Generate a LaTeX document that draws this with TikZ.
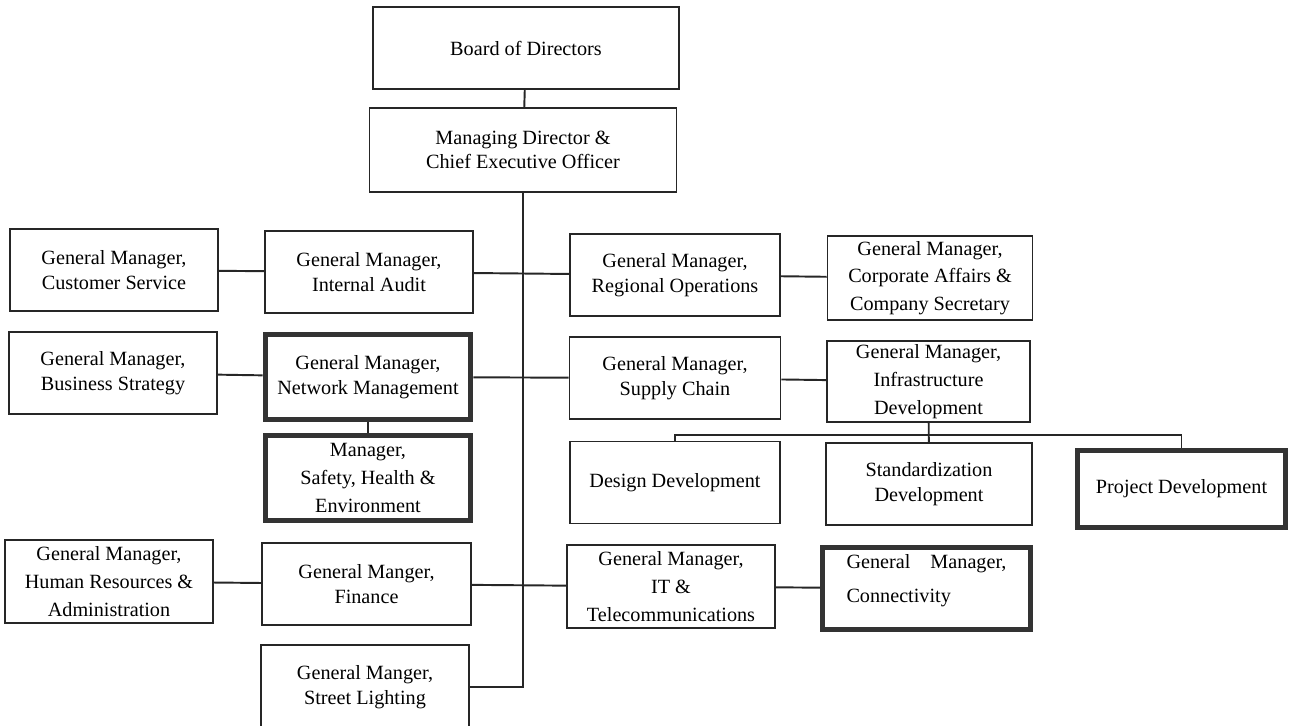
\documentclass[tikz,border=0pt]{standalone}
\usepackage{fontspec}
\setmainfont{Liberation Serif}
\usepackage{tikz}

\begin{document}
\begin{tikzpicture}[font=\fontsize{11.5}{14}\selectfont,
 box/.style={draw=black!85,line width=1.1pt,fill=white,align=center,inner sep=2pt,minimum width=4.16cm,minimum height=1.64cm},
 bold/.style={box,draw=black!80,line width=3pt},
 tall/.style={font=\fontsize{11.5}{15.8}\selectfont,inner ysep=0pt},
 link/.style={draw=black!85,line width=1.1pt}]
\useasboundingbox (0,0) rectangle (25.92,-14.52);
\node[box,minimum width=6.12cm] (board) at (10.52,-0.96) {Board of Directors};
\node[box,minimum width=6.14cm,minimum height=1.68cm] (md) at (10.46,-3.0) {Managing Director \&\\Chief Executive Officer};
% first row
\node[box] (cs) at (2.28,-5.40) {General Manager,\\Customer Service};
\node[box] (audit) at (7.38,-5.44) {General Manager,\\Internal Audit};
\node[box,minimum width=4.2cm] (regops) at (13.5,-5.5) {General Manager,\\Regional Operations};
\node[box,tall,minimum width=4.1cm,minimum height=1.68cm] (corp) at (18.6,-5.56) {General Manager,\\Corporate Affairs \&\\Company Secretary};
% second row
\node[box] (strategy) at (2.26,-7.46) {General Manager,\\Business Strategy};
\node[bold,minimum width=4.11cm,minimum height=1.69cm] (network) at (7.36,-7.54) {General Manager,\\Network Management};
\node[box,minimum width=4.22cm] (supply) at (13.5,-7.56) {General Manager,\\Supply Chain};
\node[box,tall,minimum width=4.06cm,minimum height=1.62cm] (infra) at (18.57,-7.63) {General Manager,\\Infrastructure\\Development};
\node[bold,tall,minimum width=4.09cm,minimum height=1.69cm] (safety) at (7.36,-9.56) {Manager,\\Safety, Health \&\\Environment};
% development
\node[box,minimum width=4.2cm] (design) at (13.5,-9.65) {Design Development};
\node[box,minimum width=4.12cm] (standard) at (18.58,-9.68) {Standardization\\Development};
\node[bold,minimum width=4.15cm,minimum height=1.53cm] (project) at (23.63,-9.78) {Project Development};
% third row
\node[box,tall,minimum height=1.66cm] (hr) at (2.18,-11.63) {General Manager,\\Human Resources \&\\Administration};
\node[box,minimum width=4.18cm] (finance) at (7.33,-11.68) {General Manger,\\Finance};
\node[box,tall,minimum height=1.66cm] (it) at (13.42,-11.73) {General Manager,\\IT \&\\Telecommunications};
\node[bold,minimum width=4.15cm,minimum height=1.63cm,text width=3.2cm,align=left] (connect) at (18.53,-11.77) {General\hfill Manager,\\[0.18cm]Connectivity\\[-0.08cm]\mbox{}};
\node[box,minimum height=1.68cm] (street) at (7.3,-13.74) {General Manger,\\Street Lighting};
% lines
\draw[link] (board) -- (md);
\draw[link] (md.south) |- (street.east);
\draw[link] (cs) -- (audit);
\draw[link] (audit) -- (regops);
\draw[link] (regops) -- (corp);
\draw[link] (strategy) -- (network);
\draw[link] (network) -- (supply);
\draw[link] (supply) -- (infra);
\draw[link] (network) -- (safety);
\draw[link] (infra) -- (standard);
\coordinate (bus) at (18.58,-8.7);
\draw[link] (design.north) |- (bus) -| (project.north);
\draw[link] (hr) -- (finance);
\draw[link] (finance) -- (it);
\draw[link] (it) -- (connect);
\end{tikzpicture}
\end{document}
